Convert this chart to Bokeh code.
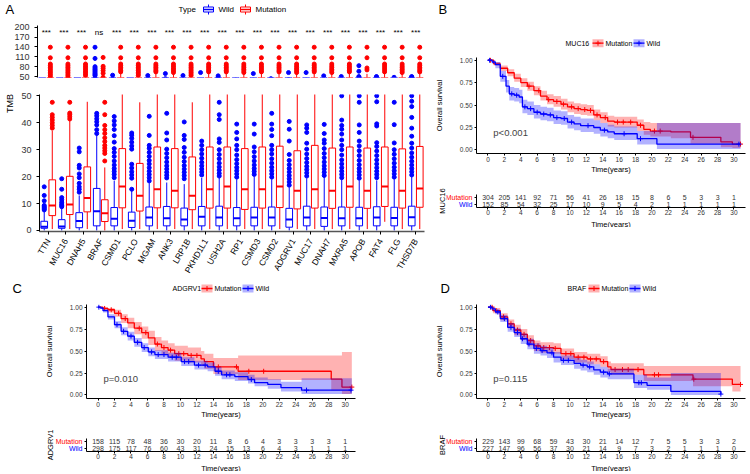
import numpy as np
from math import pi
from bokeh.plotting import figure
from bokeh.models import (ColumnDataSource, FactorRange, Range1d, FixedTicker,
                          NumeralTickFormatter, Label)
from bokeh.transform import dodge
from bokeh.layouts import row, column
from bokeh.core.properties import value
from bokeh.embed import file_html
from bokeh.resources import INLINE

FONT = "Liberation Sans"
RED = "#FF0000"
BLUE = "#0000FF"
TXT = "#333333"

# ---------------- Panel A data ----------------
genes = ["TTN", "MUC16", "DNAH5", "BRAF", "CSMD1", "PCLO", "MGAM", "ANK3", "LRP1B",
         "PKHD1L1", "USH2A", "RP1", "CSMD3", "CSMD2", "ADGRV1", "MUC17", "DNAH7",
         "MXRA5", "APOB", "FAT4", "FLG", "THSD7B"]
signif = ["***", "***", "***", "ns"] + ["***"] * 18

wild_q1 = [0.8, 0.8, 1.0, 1.7, 1.7, 1.1, 1.7, 1.7, 1.7, 1.7, 1.7, 1.7, 1.7, 1.7, 1.2, 1.7, 1.5, 1.7, 1.7, 1.7, 1.7, 1.7]
wild_med = [1.4, 1.5, 3.5, 7.1, 4.3, 3.6, 4.8, 4.5, 4.1, 5.1, 4.8, 4.5, 4.8, 4.8, 4.1, 4.8, 4.6, 4.5, 4.5, 4.8, 4.6, 4.9]
wild_q3 = [3.4, 4.0, 6.6, 15.6, 8.5, 6.8, 8.7, 8.9, 8.3, 8.9, 9.0, 8.5, 8.6, 8.7, 8.2, 9.0, 8.7, 8.7, 8.6, 8.8, 8.6, 9.0]
wild_lo = [0.0, 0.0, 0.0, 0.0, 0.0, 0.0, 0.0, 0.0, 0.0, 0.0, 0.0, 0.0, 0.0, 0.0, 0.0, 0.0, 0.0, 0.0, 0.0, 0.0, 0.0, 0.0]
wild_hi = [7.0, 8.4, 13.0, 35.8, 18.5, 15.0, 17.6, 17.8, 17.2, 19.5, 19.6, 19.0, 20.0, 19.0, 16.0, 19.4, 20.0, 19.0, 18.6, 18.6, 19.0, 20.0]
wild_outliers = [
    [7.6, 8.0, 8.4, 8.8, 9.3, 11.0, 13.0, 16.2],
    [8.8, 9.3, 9.8, 10.5, 11.4, 12.2, 15.3, 19.2],
    [14.2, 15.3, 16.2, 17.5, 19.6, 21.0, 23.2, 24.2, 29.2, 30.6],
    [36.0, 37.4, 39.2, 40.4, 41.5, 42.6, 43.5, 53, 56, 60, 64, 68, 72, 76, 80, 105, 139],
    [19.6, 20.8, 21.9, 23.0, 24.3, 25.8, 27.5, 29.0, 30.4, 32.8, 35.2, 37.5, 39.2, 40.7, 42.3, 54],
    [15.3, 19.4, 20.6, 21.8, 23.2, 24.6, 30.2, 31.4, 32.8, 34.2, 35.4, 36.2],
    [18.4, 19.6, 20.8, 22.0, 23.3, 24.7, 26.0, 27.5, 29.0, 30.5, 31.6, 35.3, 42.4, 53],
    [19.5, 20.5, 21.6, 22.8, 24.0, 25.4, 27.0, 28.6, 30.2, 33.6, 36.2, 43.5, 59],
    [19.2, 20.4, 21.6, 22.8, 24.1, 25.6, 27.2, 29.0, 30.8, 33.8, 35.3, 40.3, 53],
    [20.6, 21.7, 22.8, 24.0, 25.3, 26.8, 28.4, 30.0, 31.6, 33.2, 62],
    [20.2, 21.2, 22.4, 23.6, 25.0, 26.6, 28.2, 30.0, 32.7, 34.0, 41.2, 43.0, 47.6, 52],
    [19.8, 21.0, 22.2, 23.4, 24.8, 26.3, 28.0, 30.0, 31.6, 34.0, 36.4, 39.5],
    [20.8, 21.9, 23.0, 24.3, 25.8, 27.4, 29.2, 31.0, 35.8, 39.5, 59],
    [19.8, 21.0, 22.2, 23.5, 25.0, 26.6, 28.4, 30.0, 31.6, 35.2, 37.5, 39.5, 43.5],
    [16.8, 18.0, 19.2, 20.4, 21.7, 23.0, 24.4, 26.0, 28.2, 33.2, 37.6, 40.5, 62],
    [20.2, 21.4, 22.6, 23.8, 25.2, 26.7, 28.4, 30.2, 32.4, 36.4, 38.0, 39.2, 62],
    [20.4, 21.6, 22.8, 24.0, 25.4, 27.0, 28.6, 30.4, 32.4, 33.6, 36.0, 39.4, 52],
    [19.6, 20.8, 22.0, 23.3, 24.7, 26.2, 28.0, 30.0, 31.6, 33.6, 35.8, 37.6, 39.0, 41.0, 50],
    [19.4, 20.6, 21.8, 23.0, 24.4, 26.0, 27.8, 29.6, 31.4, 33.2, 36.4, 39.2, 47.6, 50, 66, 83],
    [19.6, 20.8, 22.0, 23.3, 24.7, 26.2, 27.8, 29.5, 31.2, 32.6, 38.8, 39.6, 47.8, 50],
    [19.8, 21.0, 22.2, 23.5, 25.0, 26.6, 28.3, 30.0, 32.5, 39.3, 47.6],
    [20.6, 21.8, 23.0, 24.3, 25.7, 27.2, 28.8, 30.6, 32.4, 35.0, 38.0, 42.0, 46.0, 48.0, 50],
]

mut_q1 = [5.5, 5.9, 6.9, 3.3, 8.4, 7.2, 8.4, 8.4, 7.7, 8.3, 8.3, 7.8, 8.3, 8.5, 8.0, 8.3, 8.2, 8.6, 8.2, 8.9, 8.3, 8.6]
mut_med = [9.3, 9.6, 12.0, 6.4, 16.3, 12.9, 15.3, 14.7, 12.9, 15.3, 16.3, 15.3, 15.3, 16.3, 14.7, 15.3, 14.7, 16.3, 14.7, 16.3, 14.7, 15.6]
mut_q3 = [18.8, 20.1, 23.6, 11.4, 30.4, 24.9, 31.0, 30.4, 27.3, 31.0, 31.0, 30.4, 31.0, 31.3, 29.6, 31.6, 30.6, 31.0, 30.6, 31.0, 30.3, 31.2]
mut_lo = [0.5, 0.5, 0.5, 0.0, 0.5, 0.5, 0.5, 0.5, 0.5, 0.5, 0.5, 0.5, 0.5, 0.5, 0.5, 0.5, 0.5, 0.5, 0.5, 3.2, 0.5, 0.5]
mut_hi = [37.0, 41.0, 47.8, 23.4, 62, 47.6, 62, 60, 47.6, 62, 62, 60, 62, 62, 60, 62, 60, 62, 58, 62, 60, 62]
mut_outliers = [
    [38.0, 39.0, 40.0, 41.0, 42.0, 43.0, 47.6, 53, 58, 63, 68, 73, 78, 83, 88, 107, 139],
    [41.4, 42.2, 43.0, 43.6, 47.6, 53, 58, 63, 68, 73, 78, 83, 88, 107, 139],
    [53, 58, 63, 68, 73, 78, 83, 88, 107, 139],
    [25.8, 28.6, 29.6, 30.6, 31.6, 33.0, 34.4, 36.0, 37.4, 39.0, 43.0, 47.6, 60, 68, 75, 81, 108],
    [64, 68, 73, 78, 83, 88, 107, 139],
    [53, 58, 63, 68, 73, 78, 83, 88, 107, 139],
    [64, 68, 73, 78, 83, 88, 107, 139],
    [62, 67, 72, 77, 82, 88, 107, 139],
    [53, 58, 63, 68, 73, 78, 83, 88, 107, 139],
    [64, 68, 73, 78, 83, 88, 107, 139],
    [64, 68, 73, 78, 83, 88, 107, 139],
    [62, 67, 72, 77, 82, 88, 107, 139],
    [64, 68, 73, 78, 83, 88, 107, 139],
    [64, 68, 73, 78, 83, 88, 107, 139],
    [62, 67, 72, 77, 82, 88, 107, 139],
    [64, 68, 73, 78, 83, 88, 107, 139],
    [62, 67, 72, 77, 82, 88, 107, 139],
    [64, 68, 73, 78, 83, 88, 107, 139],
    [70, 76, 107, 139],
    [64, 70, 76, 82, 88, 107, 139],
    [62, 67, 72, 77, 82, 88, 107, 139],
    [64, 68, 73, 78, 83, 88, 107, 139],
]

ticks_top = [50, 80, 110, 140, 170, 200]
ticks_bot = [0, 10, 20, 30, 40, 50]

# ---------------- KM data ----------------
time_ticks = [0, 2, 4, 6, 8, 10, 12, 14, 16, 18, 20, 22, 24, 26, 28, 30]
surv_ticks = [0.0, 0.25, 0.5, 0.75, 1.0]

muc16_mut_t = [0, 0.7, 1.5, 2.4, 3.2, 4.0, 4.8, 5.6, 6.4, 7.2, 8.0, 8.9, 9.7, 10.5, 11.3, 12.1, 12.9, 13.7, 14.6, 15.4, 18.2, 19.0, 19.8, 22.3, 24.7, 28.4, 29.8, 30.8]
muc16_mut_s = [1.00, 0.96, 0.91, 0.86, 0.80, 0.75, 0.71, 0.66, 0.60, 0.56, 0.54, 0.51, 0.48, 0.46, 0.45, 0.44, 0.39, 0.36, 0.32, 0.31, 0.275, 0.23, 0.21, 0.20, 0.14, 0.09, 0.065, 0.065]
muc16_mut_up = [1.00, 0.98, 0.94, 0.90, 0.85, 0.80, 0.76, 0.71, 0.66, 0.62, 0.60, 0.57, 0.54, 0.52, 0.51, 0.50, 0.45, 0.42, 0.38, 0.37, 0.34, 0.31, 0.30, 0.30, 0.30, 0.30, 0.30, 0.30]
muc16_mut_lo = [1.00, 0.94, 0.88, 0.82, 0.76, 0.70, 0.66, 0.61, 0.55, 0.51, 0.48, 0.45, 0.42, 0.40, 0.39, 0.38, 0.33, 0.30, 0.26, 0.25, 0.21, 0.17, 0.15, 0.13, 0.07, 0.03, 0.02, 0.02]
muc16_mut_cens = [0.3, 5.0, 6.2, 7.4, 8.4, 9.2, 10.2, 11.0, 11.8, 12.5, 13.3, 14.3, 15.8, 16.5, 17.4, 18.6, 20.3, 21.0, 25.0, 30.8]
muc16_wild_t = [0, 0.5, 0.9, 1.5, 2.2, 2.6, 3.2, 3.8, 4.2, 4.8, 5.6, 6.4, 7.2, 8.0, 8.9, 9.7, 10.5, 11.3, 12.9, 13.7, 14.6, 15.4, 18.2, 20.6, 30.8]
muc16_wild_s = [1.00, 0.98, 0.95, 0.82, 0.71, 0.625, 0.61, 0.59, 0.48, 0.46, 0.42, 0.40, 0.39, 0.36, 0.35, 0.31, 0.29, 0.27, 0.25, 0.22, 0.20, 0.18, 0.125, 0.064, 0.064]
muc16_wild_up = [1.00, 1.00, 0.98, 0.88, 0.78, 0.70, 0.69, 0.67, 0.56, 0.54, 0.50, 0.48, 0.47, 0.44, 0.43, 0.39, 0.37, 0.35, 0.33, 0.30, 0.28, 0.26, 0.21, 0.30, 0.30]
muc16_wild_lo = [1.00, 0.96, 0.91, 0.76, 0.64, 0.55, 0.54, 0.52, 0.41, 0.39, 0.35, 0.33, 0.32, 0.29, 0.28, 0.24, 0.22, 0.20, 0.18, 0.15, 0.13, 0.11, 0.06, 0.01, 0.01]
muc16_wild_cens = [0.2, 1.8, 2.9, 3.5, 4.5, 5.2, 6.0, 6.8, 7.6, 8.4, 9.3, 10.2, 12.2, 14.2, 16.6, 18.6, 30.6]
muc16_risk_mut = [304, 205, 141, 92, 71, 56, 41, 26, 18, 15, 8, 6, 5, 3, 3, 1]
muc16_risk_wild = [152, 85, 54, 32, 25, 17, 10, 9, 5, 4, 2, 1, 1, 1, 1, 1]

adgrv1_mut_t = [0, 0.6, 1.2, 2.0, 2.8, 3.6, 4.4, 5.3, 6.1, 6.9, 7.7, 8.5, 9.3, 10.9, 12.5, 12.9, 14.0, 17.0, 28.3, 29.6, 30.8]
adgrv1_mut_s = [1.00, 0.985, 0.97, 0.93, 0.87, 0.82, 0.76, 0.71, 0.65, 0.58, 0.54, 0.51, 0.47, 0.45, 0.41, 0.38, 0.32, 0.27, 0.18, 0.09, 0.09]
adgrv1_mut_up = [1.00, 1.00, 0.99, 0.97, 0.92, 0.88, 0.83, 0.78, 0.73, 0.66, 0.62, 0.59, 0.56, 0.54, 0.50, 0.47, 0.42, 0.45, 0.45, 0.49, 0.49]
adgrv1_mut_lo = [1.00, 0.96, 0.94, 0.89, 0.82, 0.76, 0.69, 0.64, 0.57, 0.50, 0.46, 0.43, 0.39, 0.37, 0.33, 0.30, 0.24, 0.17, 0.05, 0.01, 0.01]
adgrv1_mut_cens = [0.8, 1.6, 2.5, 3.3, 5.0, 5.8, 7.2, 8.0, 8.8, 9.8, 10.4, 11.3, 12.0, 14.6, 16.8, 18.3, 20.1, 30.8]
adgrv1_wild_t = [0, 0.3, 0.6, 1.2, 2.0, 2.8, 3.6, 4.4, 5.3, 6.1, 6.9, 8.5, 10.1, 11.7, 13.3, 14.2, 15.0, 16.6, 18.2, 19.0, 20.6, 22.2, 24.7, 30.8]
adgrv1_wild_s = [1.00, 0.99, 0.96, 0.89, 0.80, 0.725, 0.67, 0.60, 0.54, 0.49, 0.46, 0.43, 0.38, 0.34, 0.32, 0.27, 0.23, 0.21, 0.176, 0.14, 0.12, 0.084, 0.055, 0.055]
adgrv1_wild_up = [1.00, 1.00, 0.98, 0.92, 0.84, 0.77, 0.72, 0.65, 0.59, 0.54, 0.51, 0.48, 0.43, 0.39, 0.37, 0.32, 0.28, 0.26, 0.23, 0.20, 0.18, 0.15, 0.19, 0.19]
adgrv1_wild_lo = [1.00, 0.98, 0.94, 0.86, 0.76, 0.68, 0.62, 0.55, 0.49, 0.44, 0.41, 0.38, 0.33, 0.29, 0.27, 0.22, 0.18, 0.16, 0.13, 0.10, 0.07, 0.04, 0.01, 0.01]
adgrv1_wild_cens = [0.1, 2.3, 3.1, 4.0, 4.8, 5.6, 6.5, 7.3, 8.0, 9.0, 9.5, 10.5, 11.0, 12.2, 13.0, 14.6, 15.6, 16.0, 18.6, 25.3, 30.7]
adgrv1_risk_mut = [158, 115, 78, 48, 36, 30, 20, 11, 8, 6, 4, 3, 3, 3, 3, 1]
adgrv1_risk_wild = [298, 175, 117, 76, 60, 43, 31, 24, 15, 13, 6, 4, 3, 1, 1, 1]

braf_mut_t = [0, 0.6, 1.5, 2.4, 3.2, 4.0, 4.8, 5.6, 6.4, 8.0, 8.9, 10.5, 12.1, 13.7, 14.6, 15.0, 19.0, 25.0, 29.8, 30.8]
braf_mut_s = [1.00, 0.96, 0.89, 0.81, 0.74, 0.69, 0.62, 0.56, 0.54, 0.53, 0.47, 0.43, 0.41, 0.38, 0.32, 0.29, 0.23, 0.18, 0.12, 0.12]
braf_mut_up = [1.00, 0.99, 0.93, 0.86, 0.80, 0.75, 0.68, 0.62, 0.60, 0.59, 0.53, 0.49, 0.47, 0.44, 0.38, 0.36, 0.33, 0.33, 0.33, 0.33]
braf_mut_lo = [1.00, 0.93, 0.85, 0.76, 0.68, 0.63, 0.56, 0.50, 0.48, 0.47, 0.41, 0.37, 0.35, 0.32, 0.26, 0.23, 0.16, 0.10, 0.04, 0.04]
braf_mut_cens = [0.5, 1.0, 1.9, 2.8, 3.6, 4.4, 5.2, 6.1, 6.8, 7.5, 8.2, 9.5, 10.1, 11.0, 11.7, 12.5, 13.2, 14.1, 15.5, 16.4, 17.1, 18.3, 20.3, 20.8, 25.1, 30.8]
braf_wild_t = [0, 0.5, 0.9, 1.5, 2.4, 3.2, 4.0, 4.8, 5.6, 6.4, 7.2, 8.0, 8.9, 10.5, 11.3, 12.1, 12.9, 13.7, 14.6, 17.8, 19.4, 22.3, 28.4]
braf_wild_s = [1.00, 0.98, 0.945, 0.87, 0.77, 0.71, 0.64, 0.58, 0.53, 0.505, 0.48, 0.43, 0.395, 0.36, 0.34, 0.32, 0.286, 0.26, 0.24, 0.14, 0.11, 0.04, 0.01]
braf_wild_up = [1.00, 1.00, 0.97, 0.91, 0.82, 0.76, 0.70, 0.64, 0.59, 0.56, 0.54, 0.49, 0.45, 0.42, 0.40, 0.38, 0.35, 0.32, 0.30, 0.23, 0.20, 0.25, 0.25]
braf_wild_lo = [1.00, 0.96, 0.92, 0.83, 0.72, 0.66, 0.58, 0.52, 0.47, 0.45, 0.42, 0.37, 0.34, 0.30, 0.28, 0.26, 0.23, 0.20, 0.18, 0.08, 0.06, 0.00, 0.00]
braf_wild_cens = [0.3, 1.2, 2.0, 2.8, 3.6, 4.2, 5.0, 5.9, 6.6, 7.8, 9.2, 9.8, 11.6, 12.4, 14.1, 14.8, 18.4, 18.7, 28.4]
braf_risk_mut = [229, 143, 99, 68, 59, 43, 30, 21, 14, 12, 7, 5, 5, 3, 3, 2]
braf_risk_wild = [227, 147, 96, 56, 37, 30, 21, 14, 9, 7, 3, 2, 1, 1, 1, 0]

# ---------------- helpers ----------------
XSTART = -1.4
YR = (-0.04, 1.03)


def noalign(p):
    try:
        p.frame_align = False
    except Exception:
        pass
    return p


def clean(p):
    p.xgrid.visible = False
    p.ygrid.visible = False
    p.outline_line_color = None
    p.background_fill_color = "white"
    p.border_fill_color = "white"
    noalign(p)


def style_axis(ax, tick_fs, title_fs="7.5px", tick_out=3):
    ax.axis_line_color = "black"
    ax.axis_line_width = 1
    ax.major_tick_line_color = "black"
    ax.minor_tick_line_color = None
    ax.major_tick_out = tick_out
    ax.major_tick_in = 0
    ax.major_label_text_font = FONT
    ax.major_label_text_font_size = tick_fs
    ax.major_label_text_color = TXT
    ax.axis_label_text_font = FONT
    ax.axis_label_text_font_size = title_fs
    ax.axis_label_text_font_style = "normal"
    ax.axis_label_text_color = "black"


def canvas(width, height):
    """A figure whose frame fills it entirely; pixel coordinates, y upwards."""
    p = figure(width=width, height=height, x_range=Range1d(0, width), y_range=Range1d(0, height),
               output_backend="svg", toolbar_location=None, x_axis_location=None, y_axis_location=None,
               min_border_left=0, min_border_right=0, min_border_top=0, min_border_bottom=0)
    clean(p)
    return p


def title_strip(width, height, left, top, bottom, title, size):
    """A narrow figure whose only visible element is a vertical axis title."""
    p = figure(width=width, height=height, x_range=Range1d(left, width), y_range=Range1d(0.5, 2.5),
               output_backend="svg", toolbar_location=None, x_axis_location=None,
               min_border_left=left, min_border_right=0, min_border_top=top, min_border_bottom=bottom)
    clean(p)
    ax = p.yaxis[0]
    ax.ticker = FixedTicker(ticks=[])
    ax.axis_line_color = None
    ax.major_tick_line_color = None
    ax.minor_tick_line_color = None
    ax.major_tick_out = 0
    ax.major_label_text_alpha = 0
    ax.axis_label = title
    ax.axis_label_standoff = 0
    ax.axis_label_text_font = FONT
    ax.axis_label_text_font_size = size
    ax.axis_label_text_font_style = "normal"
    ax.axis_label_text_color = "black"
    return p


def put_text(p, x, y_top, txt, size, color="black", align="left"):
    p.add_layout(Label(x=x, y=p.height - y_top, text=txt, text_font=FONT, text_font_size=size,
                       text_color=color, text_align=align, text_baseline="middle"))


def km_key(p, x, y_top, col):
    y = p.height - y_top
    p.quad(left=[x], right=[x + 11], bottom=[y - 4], top=[y + 4], fill_color=col, fill_alpha=0.3,
           line_alpha=0)
    p.segment(x0=[x], x1=[x + 11], y0=[y], y1=[y], line_color=col, line_width=1.3)
    p.scatter(x=[x + 5.5], y=[y], marker="cross", size=5, line_color=col, line_width=1)


def box_key(p, x, y_top, col):
    y = p.height - y_top
    p.segment(x0=[x + 5, x + 5], x1=[x + 5, x + 5], y0=[y + 2.5, y - 2.5], y1=[y + 5, y - 5],
              line_color=col, line_width=1)
    p.quad(left=[x], right=[x + 10], bottom=[y - 2.5], top=[y + 2.5], fill_color="white",
           line_color=col, line_width=1)
    p.segment(x0=[x], x1=[x + 10], y0=[y], y1=[y], line_color=col, line_width=1.5)


def km_header(width, height, letter, letter_x, letter_y, gene, title_x, key_x, leg_y):
    h = canvas(width, height)
    put_text(h, letter_x, letter_y, letter, "13px")
    put_text(h, title_x, leg_y, gene, "7px")
    km_key(h, key_x, leg_y, RED)
    put_text(h, key_x + 13, leg_y, "Mutation", "7px")
    km_key(h, key_x + 41, leg_y, BLUE)
    put_text(h, key_x + 54, leg_y, "Wild", "7px")
    return h


def footer(width, center_x):
    f = canvas(width, 10)
    put_text(f, center_x, 4.5, "Time(years)", "7.5px", align="center")
    return f


# ---------------- Panel A ----------------
xr = FactorRange(factors=genes)
src_w = ColumnDataSource(dict(gene=genes, q1=wild_q1, med=wild_med, q3=wild_q3, lo=wild_lo, hi=wild_hi))
src_m = ColumnDataSource(dict(gene=genes, q1=mut_q1, med=mut_med, q3=mut_q3, lo=mut_lo, hi=mut_hi))
src_ow = ColumnDataSource(dict(gene=[g for g, vs in zip(genes, wild_outliers) for _ in vs],
                               val=[v for vs in wild_outliers for v in vs]))
src_om = ColumnDataSource(dict(gene=[g for g, vs in zip(genes, mut_outliers) for _ in vs],
                               val=[v for vs in mut_outliers for v in vs]))
OFF = 0.23
BW = 0.38


def draw_boxes(p):
    for src, osrc, off, col in ((src_w, src_ow, -OFF, BLUE), (src_m, src_om, OFF, RED)):
        xd = dodge("gene", off, range=p.x_range)
        p.scatter(x=dodge("gene", off, range=p.x_range), y="val", source=osrc, size=4,
                  fill_color=col, line_color=col)
        p.segment(x0=xd, x1=xd, y0="q3", y1="hi", source=src, line_color=col, line_width=1)
        p.segment(x0=xd, x1=xd, y0="lo", y1="q1", source=src, line_color=col, line_width=1)
        p.vbar(x=xd, width=BW, top="q3", bottom="q1", source=src,
               fill_color="white", line_color=col, line_width=1)
        p.segment(x0=dodge("gene", off - BW / 2, range=p.x_range), x1=dodge("gene", off + BW / 2, range=p.x_range),
                  y0="med", y1="med", source=src, line_color=col, line_width=2)


hdrA = canvas(428, 20)
put_text(hdrA, 5, 9, "A", "13px")
put_text(hdrA, 178, 9, "Type", "8px")
box_key(hdrA, 203, 9, BLUE)
put_text(hdrA, 218, 9, "Wild", "8px")
box_key(hdrA, 240, 9, RED)
put_text(hdrA, 255, 9, "Mutation", "8px")

pA_top = figure(width=428, height=5 + 52 + 8, x_range=xr, y_range=Range1d(47, 205),
                output_backend="svg", toolbar_location=None,
                min_border_left=37, min_border_right=4, min_border_top=5, min_border_bottom=8)
clean(pA_top)
draw_boxes(pA_top)
pA_top.xaxis.visible = False
style_axis(pA_top.yaxis[0], "9px")
pA_top.yaxis.ticker = FixedTicker(ticks=ticks_top)
pA_top.text(x="gene", y=185, text="sig", source=ColumnDataSource(dict(gene=genes, sig=signif)),
            text_font=value(FONT), text_font_size="8px", text_align="center", text_baseline="middle",
            text_color="black")

A_BOT_H = 9 + 141 + 45
gutA = title_strip(18, A_BOT_H, 14, 3, A_BOT_H - 3 - 30, "TMB", "9px")

pA_bot = figure(width=410, height=A_BOT_H, x_range=xr, y_range=Range1d(-0.4, 50.5),
                output_backend="svg", toolbar_location=None,
                min_border_left=19, min_border_right=4, min_border_top=9, min_border_bottom=45)
clean(pA_bot)
draw_boxes(pA_bot)
style_axis(pA_bot.yaxis[0], "9px")
style_axis(pA_bot.xaxis[0], "8.5px")
pA_bot.yaxis.ticker = FixedTicker(ticks=ticks_bot)
pA_bot.xaxis.major_label_orientation = pi / 3
pA_bot.xaxis.axis_line_color = "#555555"
pA_bot.xaxis.axis_line_width = 1.5
pA_bot.xaxis.major_label_text_color = "black"


# ---------------- KM panels ----------------
def step_band(t, v):
    t = np.asarray(t, float)
    v = np.asarray(v, float)
    return np.repeat(t, 2)[1:], np.repeat(v, 2)[:-1]


def make_km(width, left, right, top, fh, bottom, xend, curves, pval):
    p = figure(width=width, height=top + fh + bottom, x_range=Range1d(XSTART, xend),
               y_range=Range1d(*YR), output_backend="svg", toolbar_location=None,
               min_border_left=left, min_border_right=right, min_border_top=top,
               min_border_bottom=bottom)
    clean(p)
    for t, s, lo, up, cens, col in curves:
        bx, blo = step_band(t, lo)
        _, bup = step_band(t, up)
        p.varea(x=bx, y1=blo, y2=bup, fill_color=col, fill_alpha=0.3)
        p.step(x=t, y=s, mode="after", line_color=col, line_width=1.3)
        ta = np.asarray(t, float)
        idx = np.searchsorted(ta, np.asarray(cens, float), side="right") - 1
        cy = np.asarray(s, float)[idx]
        p.scatter(x=cens, y=cy, marker="cross", size=5, line_color=col, line_width=1)
    style_axis(p.xaxis[0], "6.5px", tick_out=2)
    style_axis(p.yaxis[0], "6.5px", tick_out=2)
    p.xaxis.ticker = FixedTicker(ticks=time_ticks)
    p.yaxis.ticker = FixedTicker(ticks=surv_ticks)
    p.yaxis.formatter = NumeralTickFormatter(format="0.00")
    p.xaxis.axis_label = "Time(years)"
    p.yaxis.axis_label = "Overall survival"
    p.xaxis.axis_label_standoff = 0
    p.xaxis.major_label_standoff = 1
    p.yaxis.axis_label_standoff = 13
    p.yaxis.major_label_standoff = 2
    p.add_layout(Label(x=0.65, y=0.19, text=pval, text_font=FONT, text_font_size="9.5px",
                       text_align="left", text_baseline="middle"))
    return p


RISK_FH = 13


def make_risk(width, right, top, bottom, xend, mut_counts, wild_counts):
    p = figure(width=width, height=top + RISK_FH + bottom, x_range=Range1d(XSTART, xend),
               y_range=Range1d(0.5, 2.5), output_backend="svg", toolbar_location=None,
               min_border_left=3, min_border_right=right, min_border_top=top,
               min_border_bottom=bottom)
    clean(p)
    p.text(x=time_ticks, y=2, text=[str(v) for v in mut_counts], text_font=value(FONT),
           text_font_size="7px", text_align="center", text_baseline="middle", text_color=TXT)
    p.text(x=time_ticks, y=1, text=[str(v) for v in wild_counts], text_font=value(FONT),
           text_font_size="7px", text_align="center", text_baseline="middle", text_color=TXT)
    style_axis(p.xaxis[0], "6.5px", tick_out=2)
    style_axis(p.yaxis[0], "1px", tick_out=2)
    p.xaxis.ticker = FixedTicker(ticks=time_ticks)
    p.xaxis.major_label_standoff = 0
    p.yaxis.ticker = FixedTicker(ticks=[1, 2])
    p.yaxis.major_label_text_alpha = 0
    p.yaxis.major_label_standoff = 0
    return p


def risk_gutter(width, top, bottom, gene, title_left, right_x):
    g = title_strip(width, top + RISK_FH + bottom, title_left, top, bottom, gene, "7.5px")
    g.add_layout(Label(x=right_x, y=2, text="Mutation", text_font=FONT, text_font_size="7px",
                       text_color=RED, text_align="right", text_baseline="middle"))
    g.add_layout(Label(x=right_x, y=1, text="Wild", text_font=FONT, text_font_size="7px",
                       text_color=BLUE, text_align="right", text_baseline="middle"))
    return g


BD_X = XSTART + 269 / 8.2
C_X = XSTART + 269 / 8.24

# Panel B (column x 428..749)
hdrB = km_header(321, 49, "B", 10, 9, "MUC16", 137, 164, 42.7)
pB_km = make_km(321, 48, 4, 8, 99, 20, BD_X,
                [(muc16_mut_t, muc16_mut_s, muc16_mut_lo, muc16_mut_up, muc16_mut_cens, RED),
                 (muc16_wild_t, muc16_wild_s, muc16_wild_lo, muc16_wild_up, muc16_wild_cens, BLUE)],
                "p<0.001")
gutB = risk_gutter(45, 18, 10, "MUC16", 18, 44)
pB_risk = make_risk(276, 4, 18, 10, BD_X, muc16_risk_mut, muc16_risk_wild)
footB = footer(321, 48 + 269 / 2)

# Panel C (column x 0..428)
hdrC = km_header(428, 16, "C", 12, 8, "ADGRV1", 172, 201, 8)
pC_km = make_km(428, 86, 73, 8, 97, 20, C_X,
                [(adgrv1_mut_t, adgrv1_mut_s, adgrv1_mut_lo, adgrv1_mut_up, adgrv1_mut_cens, RED),
                 (adgrv1_wild_t, adgrv1_wild_s, adgrv1_wild_lo, adgrv1_wild_up, adgrv1_wild_cens, BLUE)],
                "p=0.010")
gutC = risk_gutter(83, 17, 10, "ADGRV1", 54, 82)
pC_risk = make_risk(345, 73, 17, 10, C_X, adgrv1_risk_mut, adgrv1_risk_wild)
footC = footer(428, 86 + 269 / 2)

# Panel D (column x 428..749)
hdrD = km_header(321, 16, "D", 12, 8, "BRAF", 139, 160, 8)
pD_km = make_km(321, 48, 4, 8, 97, 20, BD_X,
                [(braf_mut_t, braf_mut_s, braf_mut_lo, braf_mut_up, braf_mut_cens, RED),
                 (braf_wild_t, braf_wild_s, braf_wild_lo, braf_wild_up, braf_wild_cens, BLUE)],
                "p=0.115")
gutD = risk_gutter(45, 17, 10, "BRAF", 18, 44)
pD_risk = make_risk(276, 4, 17, 10, BD_X, braf_risk_mut, braf_risk_wild)
footD = footer(321, 48 + 269 / 2)

layout = column(
    row(column(hdrA, pA_top, row(gutA, pA_bot)),
        column(hdrB, pB_km, row(gutB, pB_risk), footB)),
    row(column(hdrC, pC_km, row(gutC, pC_risk), footC),
        column(hdrD, pD_km, row(gutD, pD_risk), footD)),
)

open("out.html", "w").write(file_html(layout, INLINE))
